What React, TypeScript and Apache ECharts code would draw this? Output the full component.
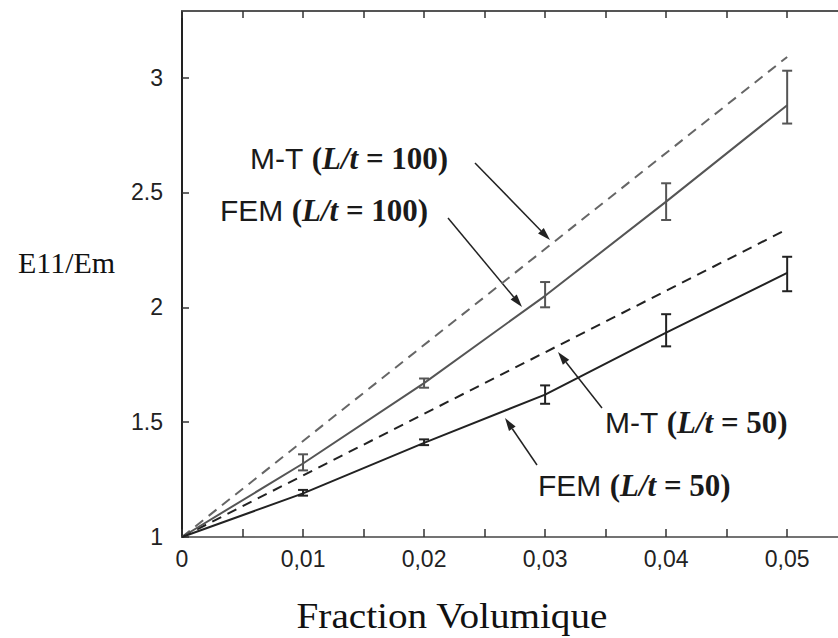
import React, { useEffect, useRef } from "react";
import * as echarts from "echarts";

// ---- data ----
const fracX = [0, 0.01, 0.02, 0.03, 0.04, 0.05];
const fem100 = [1, 1.32, 1.67, 2.05, 2.46, 2.88];
const fem100Low = [null, 1.29, 1.65, 2.0, 2.38, 2.8];
const fem100High = [null, 1.36, 1.69, 2.11, 2.54, 3.03];
const fem50 = [1, 1.19, 1.41, 1.62, 1.89, 2.15];
const fem50Low = [null, 1.18, 1.4, 1.58, 1.83, 2.07];
const fem50High = [null, 1.205, 1.425, 1.66, 1.97, 2.22];
const mtX = [0, 0.05];
const mt100 = [1, 3.09];
const mt50 = [1, 2.34];
const xTickValues = [0, 0.005, 0.01, 0.015, 0.02, 0.025, 0.03, 0.035, 0.04, 0.045, 0.05];
const xLabelValues = [0, 0.01, 0.02, 0.03, 0.04, 0.05];
const yTickValues = [1, 1.5, 2, 2.5, 3];

const SANS = "Liberation Sans, Arial, sans-serif";
const SERIF = "Liberation Serif, Times New Roman, serif";

function arrow(x1: number, y1: number, x2: number, y2: number, color: string) {
  const dx = x2 - x1, dy = y2 - y1;
  const len = Math.sqrt(dx * dx + dy * dy);
  const ux = dx / len, uy = dy / len;
  const hl = 13, hw = 4;
  const bx = x2 - ux * hl, by = y2 - uy * hl;
  return [
    { type: "line", shape: { x1, y1, x2: bx, y2: by }, style: { stroke: color, lineWidth: 1.5 } },
    {
      type: "polygon",
      shape: { points: [[x2, y2], [bx - uy * hw, by + ux * hw], [bx + uy * hw, by - ux * hw]] },
      style: { fill: color },
    },
  ];
}

function label(x: number, y: number, head: string, num: string) {
  return {
    type: "text",
    x,
    y,
    style: {
      text: `{a|${head} }{b|(}{c|L/t}{b| = ${num})}`,
      verticalAlign: "middle",
      rich: {
        a: { fontFamily: SANS, fontSize: 30, fill: "#1a1a1a" },
        b: { fontFamily: SERIF, fontSize: 31, fontWeight: "bold", fill: "#1a1a1a" },
        c: { fontFamily: SERIF, fontSize: 31, fontWeight: "bold", fontStyle: "italic", fill: "#1a1a1a" },
      },
    },
  };
}

function errSeries(low: (number | null)[], high: (number | null)[], color: string) {
  const data = fracX
    .map((x, i) => [x, low[i], high[i]])
    .filter((d) => d[1] !== null);
  return {
    type: "custom",
    data,
    z: 5,
    renderItem: (params: any, api: any) => {
      const x = api.value(0);
      const lo = api.coord([x, api.value(1)]);
      const hi = api.coord([x, api.value(2)]);
      const cw = 5;
      const st = { stroke: color, lineWidth: 2 };
      return {
        type: "group",
        children: [
          { type: "line", shape: { x1: lo[0], y1: lo[1], x2: hi[0], y2: hi[1] }, style: st },
          { type: "line", shape: { x1: lo[0] - cw, y1: lo[1], x2: lo[0] + cw, y2: lo[1] }, style: st },
          { type: "line", shape: { x1: hi[0] - cw, y1: hi[1], x2: hi[0] + cw, y2: hi[1] }, style: st },
        ],
      };
    },
  };
}

export default function App() {
  const ref = useRef<HTMLDivElement>(null);
  useEffect(() => {
    const chart = echarts.init(ref.current!, null, { renderer: "svg" });
    const xCommon = {
      type: "value",
      min: 0,
      max: 0.0542,
      splitLine: { show: false },
    };
    chart.setOption({
      animation: false,
      backgroundColor: "#ffffff",
      grid: { left: 182, right: 0, top: 11, bottom: 101 },
      xAxis: [
        {
          ...xCommon,
          position: "bottom",
          axisLine: { show: true, lineStyle: { color: "#444", width: 1.5 } },
          axisTick: { show: true, inside: true, length: 8, customValues: xTickValues, lineStyle: { color: "#333", width: 1.5 } },
          axisLabel: {
            customValues: xLabelValues,
            margin: 10,
            fontFamily: SANS,
            fontSize: 23,
            color: "#222",
            formatter: (v: number) => String(v).replace(".", ","),
          },
        },
        {
          ...xCommon,
          position: "top",
          axisLine: { show: true, lineStyle: { color: "#555", width: 2 } },
          axisTick: { show: true, inside: true, length: 7, customValues: xTickValues, lineStyle: { color: "#333", width: 1.5 } },
          axisLabel: { show: false },
        },
      ],
      yAxis: {
        type: "value",
        min: 1,
        max: 3.29,
        splitLine: { show: false },
        axisLine: { show: true, lineStyle: { color: "#222", width: 2 } },
        axisTick: { show: true, inside: true, length: 7, customValues: yTickValues, lineStyle: { color: "#333", width: 1.5 } },
        axisLabel: {
          customValues: yTickValues,
          margin: 19,
          fontFamily: SANS,
          fontSize: 23,
          color: "#222",
        },
      },
      series: [
        {
          type: "line",
          data: mtX.map((x, i) => [x, mt100[i]]),
          showSymbol: false,
          lineStyle: { color: "#666", width: 2, type: [10, 7] },
        },
        {
          type: "line",
          data: mtX.map((x, i) => [x, mt50[i]]),
          showSymbol: false,
          lineStyle: { color: "#222", width: 2, type: [10, 7] },
        },
        {
          type: "line",
          data: fracX.map((x, i) => [x, fem100[i]]),
          showSymbol: false,
          lineStyle: { color: "#555", width: 2 },
        },
        {
          type: "line",
          data: fracX.map((x, i) => [x, fem50[i]]),
          showSymbol: false,
          lineStyle: { color: "#222", width: 2 },
        },
        errSeries(fem100Low, fem100High, "#555"),
        errSeries(fem50Low, fem50High, "#222"),
      ],
      graphic: [
        {
          type: "text",
          x: 18,
          y: 262,
          style: { text: "E11/Em", fontFamily: SERIF, fontSize: 30, fill: "#111", verticalAlign: "middle" },
        },
        {
          type: "text",
          x: 452,
          y: 616,
          scaleX: 1.12,
          style: { text: "Fraction Volumique", fontFamily: SERIF, fontSize: 35, fill: "#111", align: "center", verticalAlign: "middle" },
        },
        label(250, 158, "M-T", "100"),
        label(220, 210, "FEM", "100"),
        label(605, 422, "M-T", "50"),
        label(538, 485, "FEM", "50"),
        ...arrow(475, 163, 550, 240, "#222"),
        ...arrow(448, 218, 522, 307, "#222"),
        ...arrow(602, 408, 558, 352, "#222"),
        ...arrow(537, 465, 505, 418, "#222"),
      ],
    });
    return () => chart.dispose();
  }, []);
  return <div ref={ref} style={{ position: "absolute", left: 0, top: 0, width: 838, height: 638 }} />;
}
